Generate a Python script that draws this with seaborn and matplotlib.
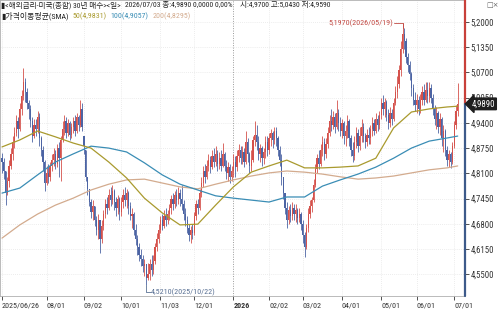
import numpy as np
import pandas as pd
import matplotlib
matplotlib.use("Agg")
import matplotlib.pyplot as plt
import matplotlib.transforms as mtransforms
from matplotlib import font_manager
import seaborn as sns

# trading calendar (US bond market holidays)
holidays = ["2025-07-04", "2025-09-01", "2025-10-13", "2025-11-27", "2025-12-25",
            "2026-01-01", "2026-01-19", "2026-02-16", "2026-05-25", "2026-06-19"]
dates = pd.bdate_range("2025-06-26", "2026-07-03", freq="C", holidays=holidays)

first_open = 4.850
closes = [
    4.840, 4.815, 4.760, 4.790, 4.830, 4.860, 4.890, 4.915, 4.945, 4.925,
    4.975, 5.010, 5.045, 5.020, 4.990, 4.975, 4.945, 4.905, 4.935, 4.925,
    4.955, 4.900, 4.870, 4.840, 4.785, 4.810, 4.800, 4.830, 4.845, 4.860,
    4.835, 4.875, 4.850, 4.895, 4.925, 4.945, 4.915, 4.940, 4.910, 4.930,
    4.945, 4.920, 4.955, 4.935, 4.975, 4.930, 4.880, 4.800, 4.770, 4.735,
    4.710, 4.725, 4.690, 4.665, 4.690, 4.640, 4.675, 4.705, 4.730, 4.720,
    4.755, 4.740, 4.765, 4.735, 4.720, 4.745, 4.710, 4.735, 4.755, 4.740,
    4.760, 4.725, 4.700, 4.705, 4.665, 4.640, 4.620, 4.600, 4.590, 4.570,
    4.575, 4.540, 4.550, 4.575, 4.560, 4.585, 4.620, 4.640, 4.665, 4.690,
    4.675, 4.700, 4.690, 4.705, 4.720, 4.745, 4.730, 4.755, 4.740, 4.760,
    4.745, 4.730, 4.705, 4.690, 4.670, 4.650, 4.665, 4.655, 4.700, 4.730,
    4.720, 4.760, 4.785, 4.815, 4.800, 4.830, 4.845, 4.825, 4.855, 4.840,
    4.860, 4.835, 4.850, 4.830, 4.860, 4.830, 4.810, 4.825, 4.800, 4.815,
    4.840, 4.825, 4.855, 4.870, 4.850, 4.865, 4.840, 4.890, 4.860, 4.830,
    4.845, 4.895, 4.910, 4.890, 4.860, 4.875, 4.850, 4.865, 4.890, 4.870,
    4.900, 4.915, 4.895, 4.920, 4.900, 4.870, 4.845, 4.800, 4.760, 4.720,
    4.690, 4.715, 4.700, 4.720, 4.705, 4.715, 4.695, 4.705, 4.680, 4.650,
    4.620, 4.670, 4.705, 4.725, 4.740, 4.780, 4.820, 4.850, 4.835, 4.870,
    4.890, 4.860, 4.885, 4.915, 4.945, 4.935, 4.955, 4.930, 4.965, 4.940,
    4.920, 4.940, 4.905, 4.920, 4.945, 4.900, 4.870, 4.855, 4.890, 4.915,
    4.880, 4.905, 4.930, 4.905, 4.890, 4.910, 4.900, 4.925, 4.940, 4.920,
    4.950, 4.935, 4.960, 4.990, 4.975, 4.995, 4.960, 4.940, 4.965, 4.950,
    4.990, 5.020, 5.040, 5.075, 5.130, 5.170, 5.150, 5.110, 5.090, 5.065,
    5.030, 5.000, 4.985, 5.000, 4.975, 5.000, 5.020, 5.000, 5.025, 5.010,
    5.030, 5.005, 4.975, 4.950, 4.965, 4.930, 4.950, 4.900, 4.920, 4.870,
    4.845, 4.860, 4.840, 4.880, 4.935, 4.970, 4.989]
highs = [
    4.862, 4.850, 4.815, 4.800, 4.845, 4.875, 4.905, 4.930, 4.960, 4.955,
    4.990, 5.025, 5.081, 5.055, 5.030, 5.000, 4.985, 4.955, 4.950, 4.950,
    4.970, 4.965, 4.905, 4.880, 4.845, 4.830, 4.835, 4.840, 4.860, 4.875,
    4.870, 4.885, 4.890, 4.905, 4.945, 4.960, 4.955, 4.950, 4.945, 4.940,
    4.955, 4.960, 4.965, 4.960, 4.999, 4.990, 4.905, 4.870, 4.800, 4.770,
    4.745, 4.740, 4.725, 4.700, 4.705, 4.690, 4.690, 4.715, 4.745, 4.750,
    4.770, 4.775, 4.780, 4.770, 4.750, 4.755, 4.750, 4.750, 4.770, 4.775,
    4.770, 4.765, 4.735, 4.720, 4.710, 4.680, 4.650, 4.630, 4.615, 4.600,
    4.590, 4.575, 4.580, 4.590, 4.600, 4.600, 4.630, 4.655, 4.680, 4.700,
    4.705, 4.715, 4.720, 4.715, 4.730, 4.755, 4.760, 4.765, 4.770, 4.775,
    4.770, 4.780, 4.740, 4.720, 4.700, 4.680, 4.675, 4.680, 4.710, 4.740,
    4.745, 4.770, 4.800, 4.830, 4.835, 4.845, 4.860, 4.855, 4.870, 4.875,
    4.880, 4.870, 4.865, 4.870, 4.888, 4.865, 4.845, 4.840, 4.835, 4.830,
    4.860, 4.855, 4.870, 4.885, 4.880, 4.880, 4.875, 4.920, 4.900, 4.865,
    4.870, 4.905, 4.945, 4.935, 4.905, 4.885, 4.880, 4.875, 4.905, 4.905,
    4.915, 4.925, 4.920, 4.930, 4.930, 4.905, 4.880, 4.860, 4.800, 4.760,
    4.735, 4.725, 4.730, 4.735, 4.730, 4.730, 4.720, 4.720, 4.710, 4.690,
    4.660, 4.680, 4.720, 4.740, 4.750, 4.795, 4.835, 4.860, 4.870, 4.885,
    4.905, 4.900, 4.900, 4.930, 4.960, 4.975, 4.970, 4.965, 4.999, 4.975,
    4.955, 4.950, 4.945, 4.935, 4.960, 4.950, 4.910, 4.890, 4.905, 4.930,
    4.925, 4.930, 4.950, 4.940, 4.915, 4.925, 4.930, 4.935, 4.955, 4.950,
    4.965, 4.960, 4.970, 5.005, 5.012, 5.005, 5.000, 4.975, 4.980, 4.975,
    5.005, 5.035, 5.060, 5.090, 5.150, 5.197, 5.185, 5.160, 5.120, 5.100,
    5.070, 5.040, 5.020, 5.015, 5.010, 5.015, 5.035, 5.040, 5.045, 5.045,
    5.045, 5.040, 5.015, 4.985, 4.980, 4.970, 4.965, 4.955, 4.935, 4.925,
    4.880, 4.870, 4.865, 4.890, 4.945, 4.985, 5.043]
lows = [
    4.810, 4.795, 4.728, 4.755, 4.775, 4.820, 4.845, 4.875, 4.905, 4.900,
    4.920, 4.960, 5.000, 4.995, 4.975, 4.950, 4.930, 4.890, 4.900, 4.905,
    4.915, 4.880, 4.855, 4.815, 4.765, 4.780, 4.785, 4.790, 4.815, 4.830,
    4.820, 4.825, 4.800, 4.790, 4.890, 4.910, 4.900, 4.905, 4.895, 4.900,
    4.915, 4.905, 4.915, 4.920, 4.930, 4.920, 4.860, 4.790, 4.755, 4.725,
    4.695, 4.690, 4.675, 4.650, 4.640, 4.605, 4.630, 4.665, 4.695, 4.705,
    4.715, 4.725, 4.730, 4.715, 4.700, 4.705, 4.690, 4.700, 4.720, 4.725,
    4.720, 4.705, 4.690, 4.670, 4.650, 4.625, 4.600, 4.585, 4.570, 4.555,
    4.545, 4.521, 4.535, 4.535, 4.545, 4.550, 4.575, 4.610, 4.630, 4.655,
    4.665, 4.670, 4.675, 4.680, 4.690, 4.705, 4.715, 4.720, 4.725, 4.730,
    4.725, 4.715, 4.690, 4.675, 4.655, 4.635, 4.630, 4.640, 4.650, 4.690,
    4.705, 4.715, 4.750, 4.775, 4.785, 4.795, 4.815, 4.810, 4.820, 4.825,
    4.830, 4.815, 4.820, 4.815, 4.825, 4.815, 4.795, 4.790, 4.785, 4.790,
    4.800, 4.800, 4.815, 4.840, 4.835, 4.835, 4.825, 4.835, 4.840, 4.810,
    4.815, 4.840, 4.880, 4.870, 4.845, 4.840, 4.830, 4.835, 4.850, 4.855,
    4.860, 4.880, 4.875, 4.885, 4.880, 4.855, 4.830, 4.780, 4.745, 4.705,
    4.670, 4.680, 4.685, 4.690, 4.690, 4.685, 4.680, 4.685, 4.665, 4.630,
    4.594, 4.615, 4.660, 4.695, 4.710, 4.735, 4.775, 4.810, 4.820, 4.830,
    4.855, 4.845, 4.850, 4.875, 4.905, 4.920, 4.925, 4.915, 4.925, 4.920,
    4.905, 4.900, 4.885, 4.880, 4.900, 4.880, 4.855, 4.840, 4.845, 4.875,
    4.865, 4.870, 4.890, 4.890, 4.875, 4.880, 4.885, 4.885, 4.905, 4.910,
    4.915, 4.920, 4.925, 4.950, 4.960, 4.955, 4.945, 4.925, 4.930, 4.935,
    4.945, 4.985, 5.005, 5.030, 5.060, 5.120, 5.130, 5.095, 5.070, 5.050,
    5.010, 4.985, 4.970, 4.965, 4.960, 4.965, 4.985, 4.985, 4.995, 4.990,
    4.995, 4.990, 4.960, 4.935, 4.925, 4.915, 4.910, 4.880, 4.865, 4.855,
    4.830, 4.825, 4.824, 4.835, 4.875, 4.925, 4.959]

# moving averages, every 10 bars
ma_idx = [0, 10, 20, 30, 40, 50, 60, 70, 80, 90, 100, 110, 120, 130, 140,
          150, 160, 170, 180, 190, 200, 210, 220, 230, 240, 250, 256]
ma50 = [4.878, 4.896, 4.919, 4.904, 4.888, 4.875, 4.839, 4.798, 4.746, 4.708,
        4.677, 4.679, 4.728, 4.775, 4.813, 4.829, 4.844, 4.824, 4.824, 4.826,
        4.829, 4.849, 4.927, 4.968, 4.976, 4.981, 4.983]
ma100 = [4.759, 4.772, 4.806, 4.839, 4.860, 4.880, 4.875, 4.865, 4.837, 4.806,
         4.782, 4.767, 4.752, 4.746, 4.741, 4.736, 4.749, 4.749, 4.777, 4.793,
         4.808, 4.826, 4.849, 4.875, 4.893, 4.901, 4.906]
ma200 = [4.643, 4.677, 4.705, 4.728, 4.746, 4.767, 4.782, 4.793, 4.795, 4.785,
         4.775, 4.770, 4.782, 4.793, 4.803, 4.811, 4.816, 4.813, 4.808, 4.801,
         4.795, 4.798, 4.803, 4.811, 4.819, 4.824, 4.829]

tick_dates = ["2025-06-26", "2025-08-01", "2025-09-02", "2025-10-01", "2025-11-03",
              "2025-12-01", "2026-01-02", "2026-02-02", "2026-03-02", "2026-04-01",
              "2026-05-01", "2026-06-01", "2026-07-01"]
tick_labels = ["2025/06/26", "08/01", "09/02", "10/01", "11/03", "12/01", "2026",
               "02/02", "03/02", "04/01", "05/01", "06/01", "07/01"]
y_ticks = [4.55, 4.615, 4.68, 4.745, 4.81, 4.875, 4.94, 5.005, 5.07, 5.135, 5.2]

RED = "#d5514b"
BLUE = "#4c64a4"
C50, C100, C200 = "#a99a2e", "#3a8db5", "#d3ab8e"

sns.set_theme(style="white")
installed = {f.name for f in font_manager.fontManager.ttflist}
narrow = [n for n in ["Liberation Sans Narrow", "DejaVu Sans Condensed", "Roboto Condensed",
                      "Open Sans Condensed", "Noto Sans Display"] if n in installed]
plt.rcParams["font.family"] = narrow[:1] + ["DejaVu Sans", "Noto Sans CJK KR"]
hangul = narrow[:1] + ["Noto Sans CJK KR", "DejaVu Sans"]

fig = plt.figure(figsize=(5, 3.14), dpi=100)
ax = fig.add_axes([0.0, 18 / 314, 465 / 500, 296 / 314])

x = np.arange(len(closes))
c = np.array(closes)
h = np.array(highs)
l = np.array(lows)
o = np.array([first_open] + closes[:-1])
up = c >= o
cols = np.where(up, RED, BLUE)

# grid
for yv in y_ticks:
    ax.axhline(yv, color="#e6e6e6", lw=0.6, ls=(0, (1, 1.5)), zorder=0)
tick_pos = [dates.get_loc(pd.Timestamp(d)) for d in tick_dates]
for tp, lab in zip(tick_pos, tick_labels):
    if lab == "2026":
        ax.axvline(tp, color="#9a9a9a", lw=0.7, ls=(0, (1, 1.5)), zorder=0)
    else:
        ax.axvline(tp, color="#e6e6e6", lw=0.6, ls=(0, (1, 1.5)), zorder=0)

# candles
ax.vlines(x, l, h, colors=cols, lw=0.6, zorder=2)
body_lo = np.clip(np.minimum(o, c), l, h)
body_hi = np.clip(np.maximum(o, c), l, h)
ax.bar(x, np.maximum(body_hi - body_lo, 0.002), bottom=body_lo, width=0.7,
       color=cols, linewidth=0, zorder=2)

# moving averages
ma_df = pd.DataFrame({"i": ma_idx, "ma50": ma50, "ma100": ma100, "ma200": ma200})
sns.lineplot(data=ma_df, x="i", y="ma200", color=C200, lw=0.9, ax=ax, zorder=3)
sns.lineplot(data=ma_df, x="i", y="ma100", color=C100, lw=0.9, ax=ax, zorder=3)
sns.lineplot(data=ma_df, x="i", y="ma50", color=C50, lw=0.9, ax=ax, zorder=3)

ax.set_xlim(-1.124, 260.1)
ax.set_ylim(4.4938, 5.2567)
ax.set_xlabel("")
ax.set_ylabel("")

ax.yaxis.tick_right()
ax.set_yticks(y_ticks)
ax.set_yticklabels([f"{v:.4f}".replace(".", ",") for v in y_ticks])
ax.tick_params(axis="y", right=True, length=3, width=0.6, pad=1, labelsize=6.3,
               colors="#333333", direction="out")
ax.set_xticks(tick_pos)
ax.set_xticklabels(tick_labels, ha="left")
ax.tick_params(axis="x", bottom=True, length=3, width=0.6, pad=1.5, labelsize=5.8,
               colors="#333333", direction="out")
for t in ax.get_xticklabels():
    if t.get_text() == "2026":
        t.set_fontweight("bold")

for s in ["left", "top", "bottom"]:
    ax.spines[s].set_color("#b0b0b0")
    ax.spines[s].set_linewidth(0.6)
ax.spines["right"].set_visible(False)

# right axis line, red above / blue below the current price
last = closes[-1]
btrans = mtransforms.blended_transform_factory(ax.transAxes, ax.transData)
ax.plot([1, 1], [last, 5.2567], color="#c8403a", lw=1.6, transform=btrans, clip_on=False, zorder=5)
ax.plot([1, 1], [4.4938, last], color="#3d5a8a", lw=1.6, transform=btrans, clip_on=False, zorder=5)
ax.text(1.014, last, f"{last:.4f}".replace(".", ","), transform=btrans, ha="left", va="center",
        fontsize=6.3, color="white", zorder=6,
        bbox=dict(boxstyle="larrow,pad=0.15", fc="#1e1e1e", ec="#1e1e1e"))

# high / low annotations
hi_i = int(np.argmax(h))
lo_i = int(np.argmin(l))
ax.plot([hi_i - 5, hi_i, hi_i], [highs[hi_i], highs[hi_i], highs[hi_i] - 0.012],
        color="#c24a44", lw=0.6, zorder=4)
ax.text(hi_i - 5.5, highs[hi_i], f"{highs[hi_i]:.4f}".replace(".", ",")
        + dates[hi_i].strftime("(%Y/%m/%d)"), ha="right", va="center",
        fontsize=5.8, color="#c24a44")
ax.plot([lo_i, lo_i, lo_i + 2.5], [lows[lo_i], lows[lo_i] - 0.018, lows[lo_i] - 0.018],
        color="#5a7194", lw=0.6, zorder=4)
ax.text(lo_i + 2.7, lows[lo_i] - 0.018, f"{lows[lo_i]:.4f}".replace(".", ",")
        + dates[lo_i].strftime("(%Y/%m/%d)"), ha="left", va="center",
        fontsize=5.8, color="#5a7194")


# header texts: pieces placed one after another, font fitted to the line length
def header_line(pieces, y_px, x0, x_end, gap=4):
    renderer = fig.canvas.get_renderer()
    probe = [fig.text(0, 0, s, fontsize=6, family=hangul) for s, _ in pieces]
    widths = [t.get_window_extent(renderer).width for t in probe]
    for t in probe:
        t.remove()
    avail = x_end - x0 - gap * (len(pieces) - 1)
    size = min(6.3, 6 * avail / sum(widths))
    xp = x0
    for (s, col), w in zip(pieces, widths):
        fig.text(xp / 500, 1 - y_px / 314, s, fontsize=size, family=hangul,
                 va="center", color=col)
        xp += w * size / 6 + gap


header_line([("▮<해외금리-미국(종합) 30년 매수><일>", "#222222"),
             ("2026/07/03 종:4,9890 0,0000 0,00%", "#222222"),
             ("시:4,9700 고:5,0430 저:4,9590", "#222222")], 5, 1, 332)
header_line([("▮가격이동평균(SMA)", "#222222"), ("50(4,9831)", C50),
             ("100(4,9057)", C100), ("200(4,8295)", C200)], 16, 1, 191)
fig.text(486 / 500, 1 - 5 / 314, "□×", fontsize=5, va="center", color="#666666",
         family=["DejaVu Sans"])

fig.savefig("out.png", dpi=100)
